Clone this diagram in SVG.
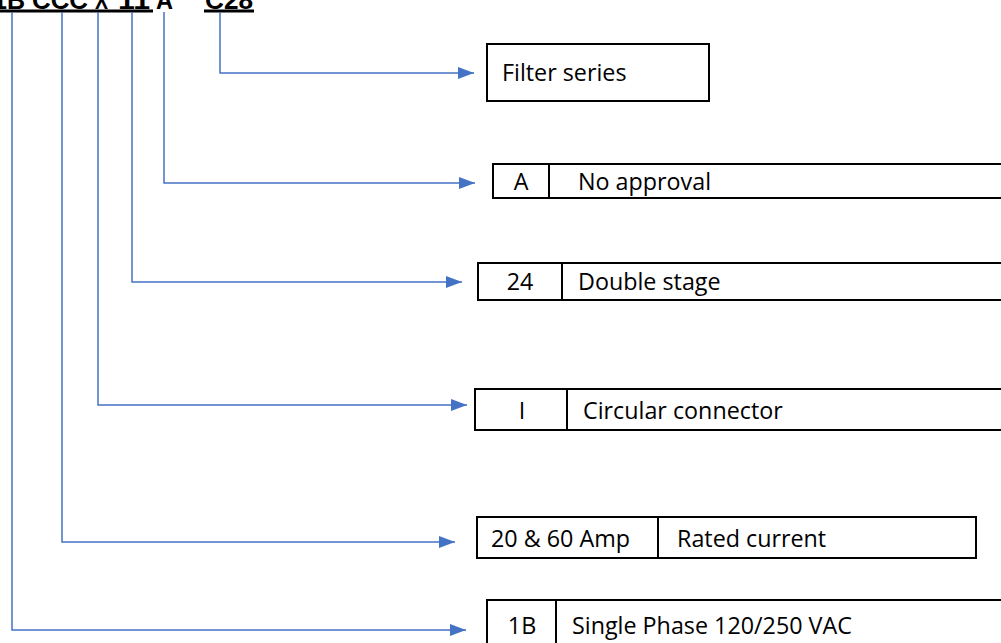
<svg xmlns="http://www.w3.org/2000/svg" width="1001" height="643" viewBox="0 0 1001 643">
<style>
.box{fill:#fff;stroke:#000;stroke-width:2}
.div{stroke:#000;stroke-width:2}
.t{font-family:"Open Sans","Liberation Sans",sans-serif;font-size:23.3px;fill:#000}
.code{font-family:"Liberation Sans",sans-serif;font-weight:bold;font-size:26px;fill:#000}
.c{fill:none;stroke:#4472C4;stroke-width:1.5}
</style>
<defs>
<marker id="ah" markerWidth="16" markerHeight="12" refX="16" refY="6" orient="auto" markerUnits="userSpaceOnUse">
<path d="M0,0 L16,6 L0,12 Z" fill="#4472C4"/>
</marker>
</defs>
<rect width="1001" height="643" fill="#fff"/>
<g id="code">
<text class="code" x="-7" y="9" textLength="32" lengthAdjust="spacingAndGlyphs">1B</text>
<text class="code" x="32" y="9" textLength="56" lengthAdjust="spacingAndGlyphs">CCC</text>
<text class="code" x="95" y="9" textLength="13" lengthAdjust="spacingAndGlyphs">X</text>
<text class="code" x="118" y="9" textLength="32" lengthAdjust="spacingAndGlyphs">11</text>
<text class="code" x="156" y="9" textLength="17" lengthAdjust="spacingAndGlyphs">A</text>
<text class="code" x="205" y="9" textLength="48" lengthAdjust="spacingAndGlyphs">C28</text>
<rect x="0" y="9.5" width="153" height="3" fill="#000"/>
<rect x="204" y="9.5" width="50" height="3" fill="#000"/>
</g>
<g id="connectors">
<polyline class="c" points="220,12 220,73 474,73" marker-end="url(#ah)"/>
<polyline class="c" points="164,12 164,183 475,183" marker-end="url(#ah)"/>
<polyline class="c" points="132,12 132,282 462,282" marker-end="url(#ah)"/>
<polyline class="c" points="98,12 98,405 467,405" marker-end="url(#ah)"/>
<polyline class="c" points="62,12 62,542 455,542" marker-end="url(#ah)"/>
<polyline class="c" points="12,12 12,630 466,630" marker-end="url(#ah)"/>
</g>
<g id="filter-series">
<rect class="box" x="487" y="44" width="222" height="57"/>
<text class="t" x="502" y="81">Filter series</text>
</g>
<g id="approval">
<rect class="box" x="493" y="164" width="520" height="34"/>
<line class="div" x1="549" y1="164" x2="549" y2="198"/>
<text class="t" x="521" y="190" text-anchor="middle">A</text>
<text class="t" x="578" y="190">No approval</text>
</g>
<g id="stage">
<rect class="box" x="478" y="263" width="535" height="37"/>
<line class="div" x1="562" y1="263" x2="562" y2="300"/>
<text class="t" x="520" y="290" text-anchor="middle">24</text>
<text class="t" x="578" y="290">Double stage</text>
</g>
<g id="connector">
<rect class="box" x="475" y="389" width="538" height="41"/>
<line class="div" x1="567" y1="389" x2="567" y2="430"/>
<text class="t" x="522" y="419" text-anchor="middle">I</text>
<text class="t" x="583" y="419">Circular connector</text>
</g>
<g id="current">
<rect class="box" x="477" y="517" width="499" height="41"/>
<line class="div" x1="658" y1="517" x2="658" y2="558"/>
<text class="t" x="491" y="547">20 &amp; 60 Amp</text>
<text class="t" x="677" y="547">Rated current</text>
</g>
<g id="phase">
<rect class="box" x="487" y="600" width="526" height="60"/>
<line class="div" x1="556" y1="600" x2="556" y2="643"/>
<text class="t" x="522" y="634" text-anchor="middle">1B</text>
<text class="t" x="572" y="634">Single Phase 120/250 VAC</text>
</g>
</svg>
